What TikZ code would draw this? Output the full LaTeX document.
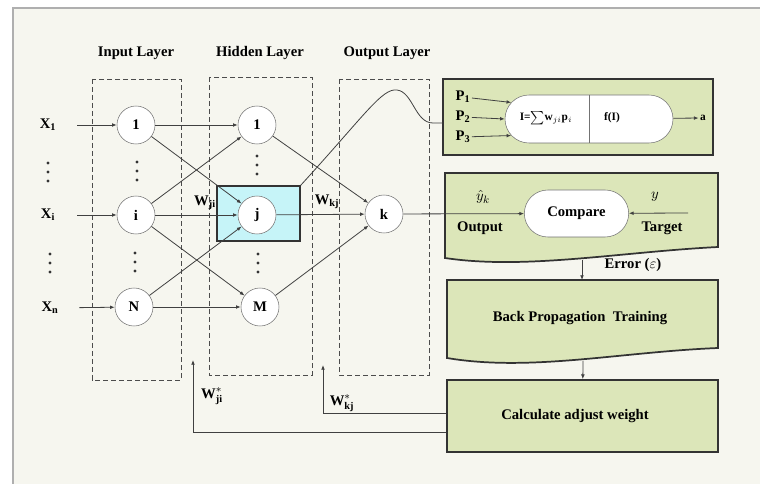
\documentclass[tikz,border=0pt]{standalone}
\usepackage{fontspec}
\setmainfont{Liberation Serif}
\usetikzlibrary{arrows.meta,shapes.misc}

\definecolor{paper}{RGB}{246,246,239}
\definecolor{framegray}{RGB}{175,175,175}
\definecolor{boxgreen}{RGB}{220,230,185}
\definecolor{jcyan}{RGB}{198,244,248}

\tikzset{
  neuron/.style={circle, draw=black!55, fill=white, minimum size=28.5pt, inner sep=0pt, font=\bfseries\fontsize{11}{13}\selectfont},
  lbl/.style={font=\bfseries\fontsize{11}{13}\selectfont, inner sep=1pt},
  small/.style={font=\bfseries\fontsize{8.5}{10}\selectfont, inner sep=1pt},
  wire/.style={draw=black!75, line width=0.6pt, -{Latex[length=3.5pt,width=2.8pt]}},
  layerbox/.style={draw=black!70, dash pattern=on 4pt off 2pt, line width=0.6pt},
  greenbox/.style={draw=black!80, line width=1.3pt, fill=boxgreen},
  pillbox/.style={rounded rectangle, draw=black!55, fill=white, inner sep=0pt},
}

\begin{document}
\begin{tikzpicture}[x=0.75pt,y=0.75pt,yscale=-1,xscale=1]
\useasboundingbox (0,0) rectangle (760,484);
\fill[white] (0,0) rectangle (760,484);
\fill[paper] (13,8) rectangle (760,484);
\draw[framegray, line width=1.5pt] (13,484) -- (13,8) -- (760,8);

% layers
\node[lbl] (tin) at (136,53) {Input Layer};
\node[lbl] (thid) at (260,53) {Hidden Layer};
\node[lbl] (tout) at (387,53) {Output Layer};
\draw[layerbox] (92,79) rectangle (181,380);
\draw[layerbox] (209,77) rectangle (312,375);
\draw[layerbox] (339,79) rectangle (429,375);

\node[draw=black!80, line width=1pt, fill=jcyan, minimum width=62.25pt, minimum height=41.25pt] (jbox) at (258.5,213.5) {};

\node[neuron] (in1) at (136,125) {1};
\node[neuron] (ini) at (136,215) {i};
\node[neuron] (inN) at (134,307) {N};
\node[neuron] (h1) at (257,125) {1};
\node[neuron] (hj) at (257,215) {j};
\node[neuron] (hM) at (260,307) {M};
\node[neuron] (ok) at (384,214) {k};

\node[lbl, minimum width=43.5pt] (x1) at (48,125) {X$_\mathbf{1}$};
\node[lbl, minimum width=43.5pt] (xi) at (48,215) {X$_\mathbf{i}$};
\node[lbl, minimum width=43.5pt] (xn) at (50,308) {X$_\mathbf{n}$};

% vertical dots
\foreach \px/\py in {48/172, 50/263, 137/171, 135/262, 257/165, 258/263}
  \foreach \k in {-9,0,9}
    \fill[black!80] (\px,\py+\k) circle (1.3pt);

\draw[wire] (x1) -- (in1);
\draw[wire] (xi) -- (ini);
\draw[wire] (xn) -- (inN);
\foreach \a/\b in {in1/h1, in1/hj, ini/h1, ini/hj, ini/hM, inN/hj, inN/hM, h1/ok, hj/ok, hM/ok}
  \draw[wire] (\a) -- (\b);

\node[lbl] (wji) at (205,203) {W$_{\mathbf{ji}}$};
\node[lbl] (wkj) at (327,202) {W$_{\mathbf{kj}}$};

% neuron model
\node[greenbox, minimum width=202.5pt, minimum height=57pt] (nbox) at (578,117) {};
\node[pillbox, minimum width=126pt, minimum height=36pt] (npill) at (589,119) {};
\draw[black!55] (npill.north) -- (npill.south);
\node[small] (sum) at (546,118) {I=$\sum$w$_{ji}$p$_i$};
\node[small] (fI) at (612,118) {f(I)};
\node[lbl] (p1) at (463,97) {P$_\mathbf{1}$};
\node[lbl] (p2) at (463,117) {P$_\mathbf{2}$};
\node[lbl] (p3) at (463,137) {P$_\mathbf{3}$};
\draw[wire] (p1) -- (npill.168);
\draw[wire] (p2) -- (npill.west);
\draw[wire] (p3) -- (npill.192);
\node[small] (aout) at (703,118) {a};
\draw[wire] (npill) -- (aout);

\coordinate (nin) at (443,123);
\draw[black!75, line width=0.6pt] (jbox.north east) .. controls (365,115) and (382,88) .. (397,90) .. controls (413,92) and (415,123) .. (433,123) -- (nin);

% compare
\draw[greenbox] (445,173) -- (718,173) -- (718,247) .. controls (620,252) and (525,270) .. (445,258) -- cycle;
\node[pillbox, lbl, minimum width=80.25pt, minimum height=35.25pt] (cmp) at (576.5,213.5) {Compare};
\node[lbl] (yhat) at (483,197) {$\hat{y}_k$};
\node[lbl] (outl) at (480,228) {Output};
\node[lbl] (yt) at (655,197) {$y$};
\node[lbl] (tgl) at (662,228) {Target};
\coordinate (tgt) at (688,213);
\draw[wire] (ok) -- (cmp);
\draw[wire] (tgt) -- (cmp);

\coordinate (errout) at (582,260);
\node[lbl] (err) at (633,265) {Error ($\varepsilon$)};

% training
\draw[greenbox] (447,280) -- (718,280) -- (718,348) .. controls (620,352) and (530,372) .. (447,358) -- cycle;
\node[lbl] (bpt) at (580,318) {Back Propagation\ \ Training};
\coordinate (bptin) at (582,280);
\draw[wire] (errout) -- (bptin);
\coordinate (bptout) at (583,361);

\node[greenbox, minimum width=203.25pt, minimum height=54pt] (calc) at (582.5,416) {};
\node[lbl] (calct) at (575,416) {Calculate adjust weight};
\draw[wire] (bptout) -- (calc);

% feedback
\coordinate (wkjend) at (323,365);
\coordinate (wjiend) at (193,360);
\draw[wire] ([yshift=-2.25pt]calc.west) -| (wkjend);
\draw[wire] ([yshift=12pt]calc.west) -| (wjiend);
\node[lbl] (wkjs) at (342,403) {W$^{*}_{\mathbf{kj}}$};
\node[lbl] (wjis) at (212,396) {W$^{*}_{\mathbf{ji}}$};

\end{tikzpicture}
\end{document}
